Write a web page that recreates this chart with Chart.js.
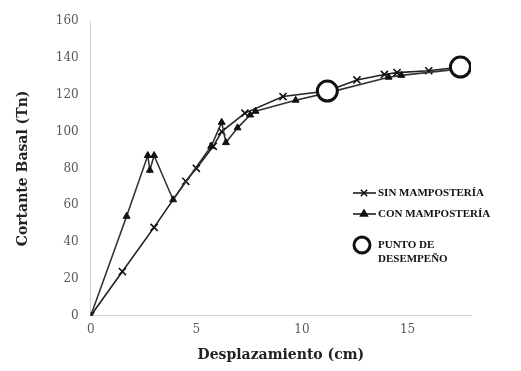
<!DOCTYPE html>
<html>
<head>
<meta charset="utf-8">
<script src="https://cdn.jsdelivr.net/npm/chart.js@4/dist/chart.umd.min.js"></script>
<style>
  html, body { margin: 0; padding: 0; background: #fff; }
  #wrap { width: 521px; height: 371px; position: relative; }
</style>
</head>
<body>
<div id="wrap"><canvas id="myChart" width="521" height="371"></canvas></div>
<script>
// SIN MAMPOSTERÍA
const sinX = [0, 1.5, 3.0, 4.5, 5.0, 5.8, 6.2, 7.3, 9.1, 11.2, 12.6, 13.9, 14.5, 16.0, 17.5];
const sinY = [0, 24, 48, 73, 80, 92, 100, 110, 119, 122, 128, 131, 132, 133, 135];

// CON MAMPOSTERÍA
const conX = [0, 1.7, 2.7, 2.8, 3.0, 3.9, 5.7, 6.2, 6.4, 6.95, 7.55, 7.8, 9.7, 11.2, 14.1, 14.7, 17.5];
const conY = [0, 54, 87, 79, 87, 63, 92, 105, 94, 102, 109, 111, 117, 121, 129.5, 130.5, 134];

// PUNTO DE DESEMPEÑO
const puntoX = [11.2, 17.5];
const puntoY = [122, 135];

const xTicks = [0, 5, 10, 15];

const toPts = (xs, ys) => xs.map((x, i) => ({ x: x, y: ys[i] }));

const serif = "'DejaVu Serif', serif";

// leyenda dibujada dentro del área del gráfico
const legendPlugin = {
    id: "insideLegend",
    afterDraw(chart) {
        const ctx = chart.ctx;
        const items = [
            { style: "crossRot", r: 4.5, lines: ["SIN MAMPOSTERÍA"], y: 193 },
            { style: "triangle", r: 4, lines: ["CON MAMPOSTERÍA"], y: 214 },
            { style: "circle", r: 8, lines: ["PUNTO DE", "DESEMPEÑO"], y: 245 }
        ];
        ctx.save();
        ctx.textBaseline = "middle";
        items.forEach(it => {
            if (it.style !== "circle") {
                ctx.strokeStyle = "#111";
                ctx.lineWidth = 1.5;
                ctx.beginPath();
                ctx.moveTo(353, it.y);
                ctx.lineTo(376, it.y);
                ctx.stroke();
                ctx.fillStyle = "#111";
                Chart.helpers.drawPoint(ctx, { pointStyle: it.style, radius: it.r, borderWidth: 1.5 }, 364, it.y);
            } else {
                ctx.fillStyle = "#fff";
                ctx.strokeStyle = "#111";
                ctx.lineWidth = 3;
                Chart.helpers.drawPoint(ctx, { pointStyle: "circle", radius: it.r, borderWidth: 3 }, 362, it.y);
            }
            ctx.fillStyle = "#111";
            ctx.font = "bold 11px 'Liberation Serif', serif";
            it.lines.forEach((t, j) => ctx.fillText(t, 378, it.y + j * 14));
        });
        ctx.restore();
    }
};

const ctx = document.getElementById("myChart").getContext("2d");

new Chart(ctx, {
    type: "scatter",
    data: {
        datasets: [
            {
                label: "PUNTO DE DESEMPEÑO",
                data: toPts(puntoX, puntoY),
                showLine: false,
                pointStyle: "circle",
                pointRadius: 10,
                pointBorderWidth: 3,
                pointBackgroundColor: "#fff",
                pointBorderColor: "#111",
                order: 0
            },
            {
                label: "SIN MAMPOSTERÍA",
                data: toPts(sinX, sinY),
                showLine: true,
                borderColor: "#222",
                borderWidth: 1.6,
                pointStyle: "crossRot",
                pointRadius: 5,
                pointBorderWidth: 1.6,
                pointBorderColor: "#111",
                order: 2
            },
            {
                label: "CON MAMPOSTERÍA",
                data: toPts(conX, conY),
                showLine: true,
                borderColor: "#333",
                borderWidth: 1.6,
                pointStyle: "triangle",
                pointRadius: 4,
                pointBorderWidth: 1,
                pointBackgroundColor: "#111",
                pointBorderColor: "#111",
                order: 1
            }
        ]
    },
    options: {
        responsive: false,
        animation: false,
        layout: { padding: { left: 15, right: 50, top: 21, bottom: 7 } },
        plugins: {
            legend: { display: false },
            tooltip: { enabled: false }
        },
        scales: {
            x: {
                type: "linear",
                min: 0,
                max: 18,
                afterBuildTicks: axis => {
                    axis.ticks = xTicks.map(v => ({ value: v }));
                },
                grid: { display: false, drawTicks: false },
                border: { color: "#d0d0d0", width: 1 },
                ticks: { color: "#595959", font: { family: serif, size: 12 }, padding: 7 },
                title: {
                    display: true,
                    text: "Desplazamiento (cm)",
                    color: "#222",
                    font: { family: serif, size: 14, weight: "bold" },
                    padding: { top: 3, bottom: 0 }
                }
            },
            y: {
                min: 0,
                max: 160,
                grid: { display: false, drawTicks: false },
                border: { color: "#d0d0d0", width: 1 },
                ticks: { stepSize: 20, color: "#595959", font: { family: serif, size: 12 }, padding: 12 },
                title: {
                    display: true,
                    text: "Cortante Basal (Tn)",
                    color: "#222",
                    font: { family: serif, size: 14, weight: "bold" },
                    padding: { top: 0, bottom: 12 }
                }
            }
        }
    },
    plugins: [legendPlugin]
});
</script>
</body>
</html>
